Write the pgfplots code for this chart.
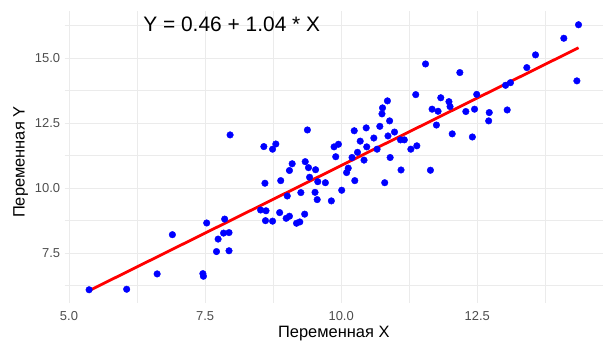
\documentclass[border=0pt]{standalone}
\usepackage{pgfplots}
\pgfplotsset{compat=1.18}
\usepackage{pgfplotstable}
\usepackage{fontspec}
\setmainfont{Liberation Sans}

\definecolor{gridgray}{HTML}{EBEBEB}
\definecolor{ticktext}{HTML}{4D4D4D}

% observed pairs (X, Y)
\pgfplotstableread{
x y
5.37 6.08
6.06 6.10
6.62 6.69
6.90 8.20
7.46 6.70
7.47 6.60
7.53 8.65
7.86 8.80
7.84 8.26
7.94 8.28
7.74 8.03
7.71 7.55
7.94 7.58
8.60 10.18
8.89 10.28
9.05 10.67
8.52 9.15
8.62 9.12
8.61 8.74
8.74 8.72
8.87 9.05
9.01 9.69
8.99 8.83
9.05 8.91
9.18 8.64
9.24 8.69
9.33 8.99
9.26 9.82
9.42 10.41
9.53 10.70
9.52 9.83
9.56 9.55
9.57 10.24
9.71 10.20
9.82 9.50
10.01 9.91
10.10 10.59
10.25 10.28
10.80 10.20
7.96 12.04
8.58 11.59
8.74 11.49
8.80 11.69
9.10 10.93
9.38 12.23
9.34 11.01
9.40 10.78
10.13 10.76
9.90 11.20
9.87 11.58
9.95 11.68
10.24 12.20
10.35 11.80
10.30 11.37
10.20 11.17
10.42 11.07
10.46 12.31
11.37 13.59
10.85 13.35
10.76 13.08
10.75 12.85
10.89 12.58
11.67 13.03
11.75 12.42
10.71 12.37
10.60 11.92
10.86 12.00
10.98 12.15
10.47 11.58
10.66 11.49
11.09 11.85
11.16 11.85
11.28 11.49
11.39 11.62
10.90 11.17
11.10 10.69
11.64 10.68
11.55 14.77
12.18 14.44
11.83 13.47
11.98 13.32
12.00 13.13
11.78 12.95
12.29 12.94
12.45 13.03
12.49 13.60
12.04 12.08
12.41 11.96
12.72 12.90
12.71 12.58
13.05 13.00
13.02 13.95
13.11 14.05
13.41 14.63
13.57 15.12
14.09 15.76
14.36 16.28
14.33 14.12
}\obsdata

% fitted line Y = 0.46 + 1.04 X at the extreme X values
\pgfplotstableread{
x y
5.37 6.045
14.36 15.394
}\fitdata

\begin{document}
\begin{tikzpicture}[x=1bp,y=1bp]
\path[use as bounding box] (0,0) rectangle (603,340);
\begin{axis}[
  at={(64.6bp,37bp)}, anchor=south west,
  scale only axis,
  width=538.4bp, height=291.5bp,
  xmin=4.92, xmax=14.81,
  ymin=5.57, ymax=16.79,
  xtick={5,7.5,10,12.5},
  ytick={7.5,10,12.5,15},
  minor xtick={6.25,8.75,11.25,13.75},
  minor ytick={6.25,8.75,11.25,13.75,16.25},
  grid=both,
  major grid style={draw=gridgray, line width=0.7bp},
  minor grid style={draw=gridgray, line width=0.4bp},
  axis line style={draw=none},
  major tick length=0pt, minor tick length=0pt,
  tick style={draw=none},
  /pgf/number format/assume math mode=true,
  /pgf/number format/.cd, fixed, fixed zerofill, precision=1,
  /pgfplots/.cd,
  ticklabel style={font=\fontsize{13}{15}\selectfont, text=ticktext},
  xticklabel style={yshift=-5bp},
  yticklabel style={xshift=-1bp},
  xlabel={Переменная X},
  ylabel={Переменная Y},
  xlabel style={at={(axis description cs:0.5,0)}, anchor=base, yshift=-34bp, font=\fontsize{16.5}{19}\selectfont},
  ylabel style={at={(axis description cs:-0.0743,0.483)}, anchor=base, font=\fontsize{16.5}{19}\selectfont},
  clip=false,
]
\addplot[only marks, mark=*, mark size=3.3bp, color=blue, mark options={draw=blue, fill=blue}] table[x=x, y=y] {\obsdata};
\addplot[red, line width=2.8bp, no marks] table[x=x, y=y] {\fitdata};
\node[anchor=base, font=\fontsize{21}{24}\selectfont] at (axis cs:7.99,16.01) {Y = 0.46 + 1.04 * X};
\end{axis}
\end{tikzpicture}
\end{document}
